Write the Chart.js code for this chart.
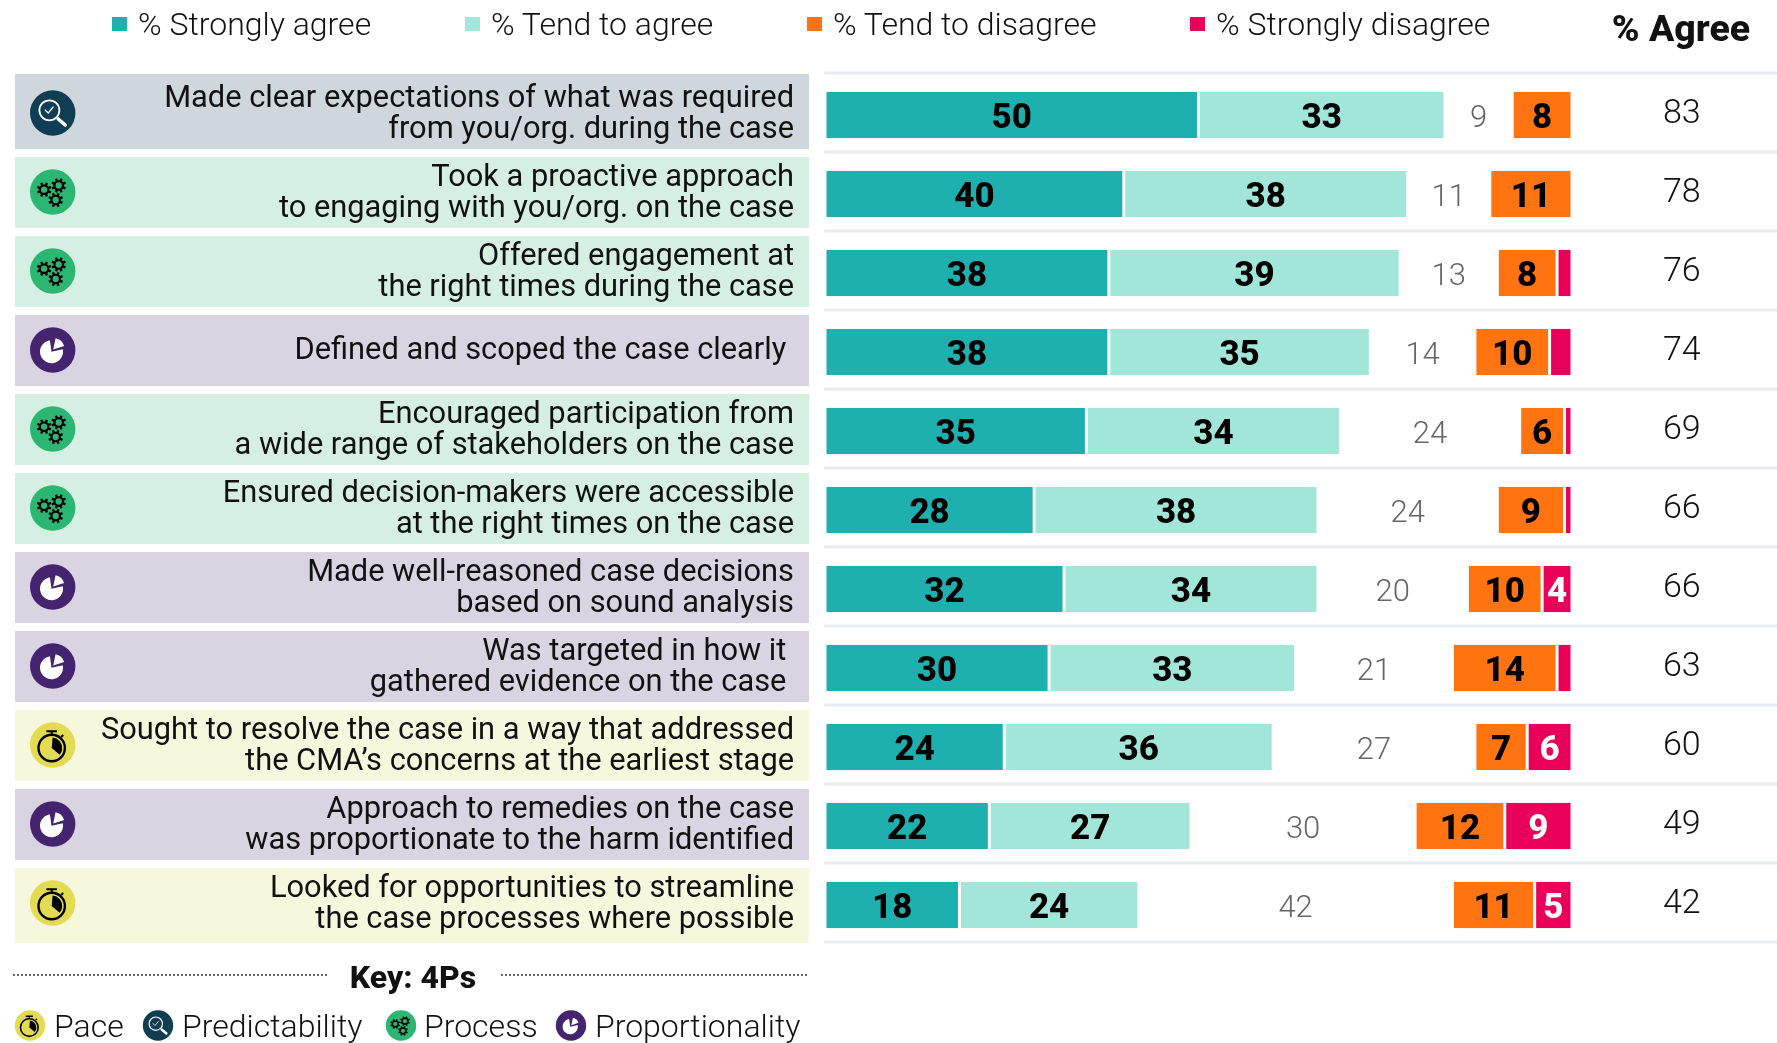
<!DOCTYPE html>
<html lang="en">
<head>
<meta charset="UTF-8">
<title>4Ps survey results</title>
<script src="https://cdn.jsdelivr.net/npm/chart.js@4/dist/chart.umd.min.js"></script>
<style>
    html, body { margin: 0; background: #fff; }
    body { position: relative; width: 1777px; height: 1043px; overflow: hidden; font-family: Roboto, sans-serif; color: #111; }
    canvas { position: absolute; left: 0; top: 0; }
    .swatch { position: absolute; top: 17px; width: 15px; height: 14px; }
    .legend-text { position: absolute; top: 4px; font-size: 32px; line-height: 40px; font-weight: 300; white-space: nowrap; }
    .agree-head { position: absolute; left: 1581px; width: 200px; top: 5px; text-align: center; font-size: 37.5px; line-height: 46px; font-weight: 800; }
    .key-title { position: absolute; left: 313px; width: 200px; top: 956px; text-align: center; font-size: 32px; line-height: 42px; font-weight: 800; }
    .key-rule { position: absolute; top: 974px; height: 0; border-top: 2px dotted #666; }
    .key-text { position: absolute; top: 1005px; font-size: 32px; line-height: 42px; font-weight: 300; white-space: nowrap; }
</style>
</head>
<body>
<canvas id="surveyChart" width="1777" height="1043"></canvas>
<div class="agree-head">% Agree</div>
<div class="key-rule" style="left:13px;width:314px"></div>
<div class="key-title">Key: 4Ps</div>
<div class="key-rule" style="left:501px;width:306px"></div>
<div id="legendBox"></div>
<script>
    const statements = [
        ['Made clear expectations of what was required', 'from you/org. during the case'],
        ['Took a proactive approach', 'to engaging with you/org. on the case'],
        ['Offered engagement at', 'the right times during the case'],
        ['Defined and scoped the case clearly '],
        ['Encouraged participation from', 'a wide range of stakeholders on the case'],
        ['Ensured decision-makers were accessible', 'at the right times on the case'],
        ['Made well-reasoned case decisions', 'based on sound analysis'],
        ['Was targeted in how it ', 'gathered evidence on the case '],
        ['Sought to resolve the case in a way that addressed', 'the CMA\u2019s concerns at the earliest stage'],
        ['Approach to remedies on the case', 'was proportionate to the harm identified'],
        ['Looked for opportunities to streamline', 'the case processes where possible']
    ];
    const themes = ['predictability', 'process', 'process', 'proportionality', 'process', 'process',
        'proportionality', 'proportionality', 'pace', 'proportionality', 'pace'];

    const stronglyAgree = [50, 40, 38, 38, 35, 28, 32, 30, 24, 22, 18];
    const tendToAgree = [33, 38, 39, 35, 34, 38, 34, 33, 36, 27, 24];
    const neither = [9, 11, 13, 14, 24, 24, 20, 21, 27, 30, 42];
    const tendToDisagree = [8, 11, 8, 10, 6, 9, 10, 14, 7, 12, 11];
    const stronglyDisagree = [0, 0, 2, 3, 1, 1, 4, 2, 6, 9, 5];
    const percentAgree = ['83', '78', '76', '74', '69', '66', '66', '63', '60', '49', '42'];

    const themeColors = {
        pace: { panel: '#F7F7DE', disc: '#E3DB52' },
        predictability: { panel: '#CFD6DC', disc: '#0F3D53' },
        process: { panel: '#D5EFE2', disc: '#2CB673' },
        proportionality: { panel: '#D9D3E2', disc: '#45246F' }
    };

    const boldLabel = '800 35px Roboto';
    const lightLabel = '300 31px Roboto';

    // white side borders give the small gaps between the segments
    function segment(label, data, color, labelColor, labelFont) {
        return {
            label, data,
            backgroundColor: color,
            borderColor: '#fff',
            borderWidth: { left: 1.5, right: 1.5, top: 0, bottom: 0 },
            borderSkipped: false,
            labelColor, labelFont
        };
    }

    const datasets = [
        segment('% Strongly agree', stronglyAgree, '#1EB0AF', '#000', boldLabel),
        segment('% Tend to agree', tendToAgree, '#A1E6D9', '#000', boldLabel),
        { label: 'Neither', data: neither, backgroundColor: 'transparent', borderWidth: 0, labelColor: '#666', labelFont: lightLabel },
        segment('% Tend to disagree', tendToDisagree, '#FF7410', '#000', boldLabel),
        segment('% Strongly disagree', stronglyDisagree, '#E90058', '#fff', boldLabel)
    ];

    // ---- icons, all sizes in units of a 22.7px disc ----
    function sector(ctx, x, y, r, from, to) {
        ctx.beginPath();
        ctx.moveTo(x, y);
        ctx.arc(x, y, r, from * Math.PI / 180, to * Math.PI / 180);
        ctx.closePath();
        ctx.fill();
    }

    function gear(ctx, x, y, R, holeColor) {
        ctx.fillStyle = '#000';
        ctx.beginPath();
        ctx.arc(x, y, R * 0.76, 0, Math.PI * 2);
        ctx.fill();
        for (let t = 0; t < 8; t++) {
            const a = t * Math.PI / 4 + Math.PI / 8;
            ctx.save();
            ctx.translate(x, y);
            ctx.rotate(a);
            ctx.fillRect(R * 0.6, -R * 0.17, R * 0.45, R * 0.34);
            ctx.restore();
        }
        ctx.fillStyle = holeColor;
        ctx.beginPath();
        ctx.arc(x, y, R * 0.45, 0, Math.PI * 2);
        ctx.fill();
    }

    function drawIcon(ctx, theme, cx, cy, r) {
        const u = r / 22.7;
        const disc = themeColors[theme].disc;
        ctx.save();
        ctx.fillStyle = disc;
        ctx.beginPath();
        ctx.arc(cx, cy, r, 0, Math.PI * 2);
        ctx.fill();
        if (theme === 'predictability') {
            ctx.strokeStyle = '#fff';
            ctx.lineWidth = 1.8 * u;
            ctx.beginPath();
            ctx.arc(cx - 3.3 * u, cy - 2.7 * u, 10 * u, 0, Math.PI * 2);
            ctx.stroke();
            ctx.lineCap = 'round';
            ctx.lineWidth = 3.6 * u;
            ctx.beginPath();
            ctx.moveTo(cx + 5.5 * u, cy + 6 * u);
            ctx.lineTo(cx + 12.5 * u, cy + 12 * u);
            ctx.stroke();
            ctx.lineWidth = 1.2 * u;
            ctx.beginPath();
            ctx.moveTo(cx - 7.5 * u, cy - 3 * u);
            ctx.lineTo(cx - 4.5 * u, cy);
            ctx.lineTo(cx + 0.5 * u, cy - 6 * u);
            ctx.stroke();
        } else if (theme === 'process') {
            gear(ctx, cx - 8.6 * u, cy - 2.3 * u, 7 * u, disc);
            gear(ctx, cx + 6 * u, cy - 6.5 * u, 7 * u, disc);
            gear(ctx, cx + 3 * u, cy + 8 * u, 7 * u, disc);
        } else if (theme === 'proportionality') {
            ctx.fillStyle = '#fff';
            sector(ctx, cx - 1.2 * u, cy + 1.7 * u, 11.5 * u, -12, 262);
            sector(ctx, cx + 0.5 * u, cy - 0.5 * u, 11.5 * u, -78, -18);
        } else {
            const bx = cx - 1 * u, by = cy + 3 * u;
            ctx.strokeStyle = '#000';
            ctx.lineWidth = 2.4 * u;
            ctx.beginPath();
            ctx.arc(bx, by, 13.2 * u, 0, Math.PI * 2);
            ctx.stroke();
            ctx.lineWidth = 2 * u;
            ctx.beginPath();
            ctx.moveTo(bx - 5.3 * u, by - 16.8 * u);
            ctx.lineTo(bx + 5.3 * u, by - 16.8 * u);
            ctx.moveTo(bx, by - 16.8 * u);
            ctx.lineTo(bx, by - 13.2 * u);
            ctx.moveTo(bx + 9.5 * u, by - 11 * u);
            ctx.lineTo(bx + 11.5 * u, by - 13 * u);
            ctx.stroke();
            ctx.fillStyle = '#000';
            sector(ctx, bx, by, 10.5 * u, -85, 40);
        }
        ctx.restore();
    }

    // panels, icons and separator rules sit behind the axis text and bars
    const rowBackdrop = {
        id: 'rowBackdrop',
        beforeDraw(chart) {
            const ctx = chart.ctx;
            const y = chart.scales.y;
            const last = statements.length - 1;
            statements.forEach((s, i) => {
                const c = y.getPixelForValue(i);
                const top = c - (i === 0 ? 41 : 37);
                const bottom = c + (i === last ? 38 : 34);
                ctx.fillStyle = themeColors[themes[i]].panel;
                ctx.fillRect(15, top, 794, bottom - top);
                drawIcon(ctx, themes[i], 52.7, c - 2, 22.7);
                ctx.fillStyle = '#E8EBF0';
                ctx.fillRect(824, c - 43.5, 953, 3);
                if (i === last) ctx.fillRect(824, c + 35.5, 953, 3);
            });
            // key row along the bottom
            [['pace', 30], ['predictability', 158], ['process', 401], ['proportionality', 571]].forEach(k => {
                drawIcon(ctx, k[0], k[1], 1025.5, 15.2);
            });
        },
        afterDatasetsDraw(chart) {
            const ctx = chart.ctx;
            ctx.save();
            ctx.textAlign = 'center';
            ctx.textBaseline = 'middle';
            chart.data.datasets.forEach((ds, d) => {
                chart.getDatasetMeta(d).data.forEach((bar, i) => {
                    const value = ds.data[i];
                    // slivers are too narrow to carry a number
                    if (value < 4) return;
                    const p = bar.getCenterPoint();
                    ctx.font = ds.labelFont;
                    ctx.fillStyle = ds.labelColor;
                    ctx.fillText(value, p.x, p.y + 4);
                });
            });
            ctx.restore();
        }
    };

    // fixed gutter widths; no extra room reserved for the outer tick labels
    function fixWidth(width) {
        return scale => {
            scale.width = width;
            scale.paddingTop = 0;
            scale.paddingBottom = 0;
        };
    }

    new Chart(document.getElementById('surveyChart'), {
        type: 'bar',
        data: { labels: statements, datasets },
        options: {
            indexAxis: 'y',
            responsive: false,
            animation: false,
            layout: { padding: { left: 15, right: 0, top: 75.5, bottom: 98.5 } },
            categoryPercentage: 1,
            barPercentage: 0.59,
            plugins: { legend: { display: false }, tooltip: { enabled: false } },
            scales: {
                x: { stacked: true, min: 0, max: 100, display: false },
                y: {
                    stacked: true,
                    offset: true,
                    border: { display: false },
                    grid: { display: false, drawTicks: false },
                    afterFit: fixWidth(810),
                    ticks: {
                        autoSkip: false,
                        padding: 31,
                        labelOffset: -0.5,
                        color: '#111',
                        font: { family: 'Roboto', size: 30.8, weight: '400', lineHeight: 31 / 30.8 }
                    }
                },
                agree: {
                    type: 'category',
                    axis: 'y',
                    position: 'right',
                    labels: percentAgree,
                    offset: true,
                    border: { display: false },
                    grid: { display: false, drawTicks: false },
                    afterFit: fixWidth(205),
                    ticks: {
                        autoSkip: false,
                        padding: 91,
                        crossAlign: 'center',
                        labelOffset: -0.5,
                        color: '#111',
                        font: { family: 'Roboto', size: 34, weight: '300' }
                    }
                }
            }
        },
        plugins: [rowBackdrop]
    });

    // html legend and key captions
    const box = document.getElementById('legendBox');
    function addText(cls, text, left) {
        const el = document.createElement('div');
        el.className = cls;
        el.style.left = left + 'px';
        el.textContent = text;
        box.appendChild(el);
    }
    const swatchLeft = [112, 465, 807, 1190];
    datasets.filter(ds => ds.label !== 'Neither').forEach((ds, i) => {
        const sw = document.createElement('div');
        sw.className = 'swatch';
        sw.style.left = swatchLeft[i] + 'px';
        sw.style.background = ds.backgroundColor;
        box.appendChild(sw);
        addText('legend-text', ds.label, swatchLeft[i] + 26);
    });
    addText('key-text', 'Pace', 54);
    addText('key-text', 'Predictability', 182);
    addText('key-text', 'Process', 424);
    addText('key-text', 'Proportionality', 595);
</script>
</body>
</html>
